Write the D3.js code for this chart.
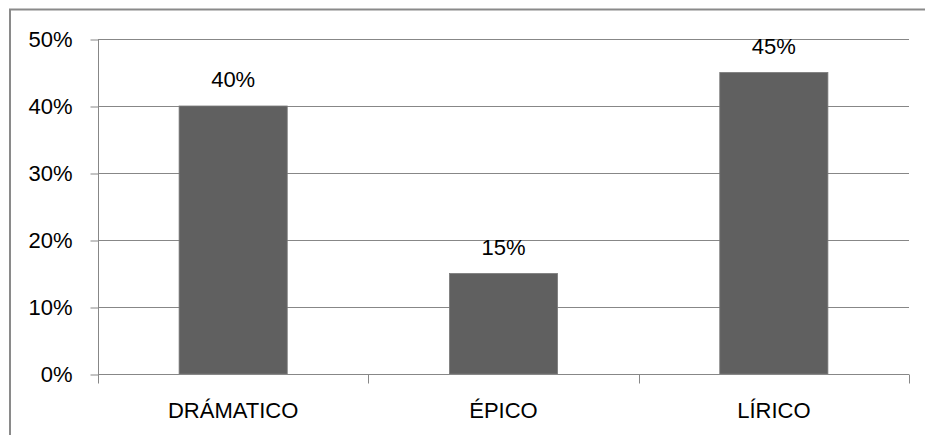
<!DOCTYPE html>
<html><head><meta charset="utf-8">
<script src="https://cdn.jsdelivr.net/npm/d3@7"></script>
<style>body{margin:0;background:#fff}svg{display:block}text{font-family:"Liberation Sans",Arial,sans-serif;fill:#000}</style>
</head><body><svg id="c" width="925" height="435"></svg>
<script>
const categories = ["DRÁMATICO", "ÉPICO", "LÍRICO"];
const values = [0.40, 0.15, 0.45];
const yTicks = [0, 0.1, 0.2, 0.3, 0.4, 0.5];

const svg = d3.select("#c");
const m = {l: 98, r: 909, t: 39, b: 374};
const x = d3.scaleBand().domain(categories).range([m.l, m.r]).paddingInner(0).paddingOuter(0);
const y = d3.scaleLinear().domain([0, 0.5]).range([m.b, m.t]);
const fmt = d3.format(".0%");
const grid = "#878787";

// outer border
svg.append("rect").attr("x", 10).attr("y", 9.5).attr("width", 1000).attr("height", 1000)
  .attr("fill", "none").attr("stroke", "#8a8a8a").attr("stroke-width", 2);

// gridlines
svg.append("g").selectAll("line").data(yTicks.filter(d => d > 0)).join("line")
  .attr("x1", m.l).attr("x2", m.r).attr("y1", d => Math.round(y(d)) + 0.5).attr("y2", d => Math.round(y(d)) + 0.5)
  .attr("stroke", grid).attr("stroke-width", 1);

// bars
svg.append("g").selectAll("rect").data(values).join("rect")
  .attr("x", (d, i) => x(categories[i]) + x.bandwidth() * 0.3)
  .attr("width", x.bandwidth() * 0.4)
  .attr("y", d => y(d)).attr("height", d => y(0) - y(d))
  .attr("fill", "#606060").attr("stroke", "#7a7a7a").attr("stroke-width", 0.8);

// y axis
const yAxis = d3.axisLeft(y).tickValues(yTicks).tickFormat(fmt).tickSize(8).tickPadding(18);
const gy = svg.append("g").attr("transform", `translate(${m.l + 0.5},0.5)`).call(yAxis);
gy.select(".domain").attr("stroke", grid).attr("d", `M-0,${m.t}V${m.b}`);
gy.selectAll(".tick line").attr("stroke", grid);
gy.selectAll(".tick text").style("font-size", "22px").attr("fill", "#000").attr("font-family", null);

// x axis
const xAxis = d3.axisBottom(x).tickSize(0).tickPadding(0);
const gx = svg.append("g").attr("transform", `translate(0,${Math.round(y(0)) + 0.5})`).call(xAxis);
gx.select(".domain").attr("stroke", grid).attr("d", `M${m.l},0H${m.r}`);
gx.selectAll(".tick text").style("font-size", "22px").attr("fill", "#000").attr("font-family", null)
  .attr("y", 43).attr("dy", 0);
// boundary ticks
const bounds = [m.l, ...categories.map(c => x(c) + x.bandwidth())];
gx.selectAll(".bt").data(bounds).join("line").attr("class", "bt")
  .attr("x1", d => Math.round(d) + 0.5).attr("x2", d => Math.round(d) + 0.5).attr("y1", 0).attr("y2", 9)
  .attr("stroke", grid);

// data labels
svg.append("g").selectAll("text").data(values).join("text")
  .attr("x", (d, i) => x(categories[i]) + x.bandwidth() / 2)
  .attr("y", d => y(d) - 19)
  .attr("text-anchor", "middle").style("font-size", "22px")
  .text(d => fmt(d));
</script></body></html>
